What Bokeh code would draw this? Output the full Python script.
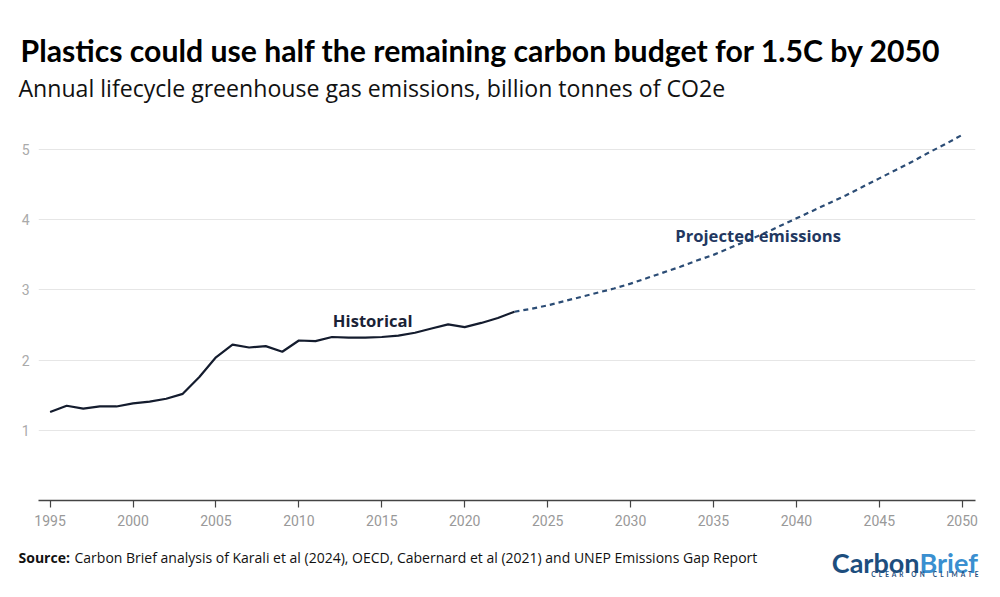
from bokeh.plotting import figure
from bokeh.models import FixedTicker, Range1d, Label, Plot
from bokeh.layouts import column
from bokeh.core.properties import value
from bokeh.embed import file_html
from bokeh.resources import INLINE

hist_years = list(range(1995, 2024))
hist_values = [1.26, 1.35, 1.31, 1.34, 1.34, 1.385, 1.41, 1.45, 1.52, 1.76,
               2.04, 2.22, 2.18, 2.20, 2.12, 2.28, 2.27, 2.33, 2.32, 2.32,
               2.33, 2.35, 2.39, 2.45, 2.51, 2.47, 2.53, 2.60, 2.69]
proj_years = list(range(2023, 2051))
proj_values = [2.69, 2.73, 2.78, 2.84, 2.90, 2.96, 3.02, 3.09, 3.17, 3.25,
               3.33, 3.42, 3.50, 3.60, 3.70, 3.80, 3.91, 4.02, 4.13, 4.24,
               4.35, 4.47, 4.59, 4.71, 4.83, 4.96, 5.08, 5.21]
x_ticks = [1995, 2000, 2005, 2010, 2015, 2020, 2025, 2030, 2035, 2040, 2045, 2050]
y_ticks = [1, 2, 3, 4, 5]

TITLE = "Plastics could use half the remaining carbon budget for 1.5C by 2050"
SUBTITLE = "Annual lifecycle greenhouse gas emissions, billion tonnes of CO2e"
SOURCE_B = "Source:"
SOURCE = "Carbon Brief analysis of Karali et al (2024), OECD, Cabernard et al (2021) and UNEP Emissions Gap Report"
NB = "\u00a0"
TAGLINE = (NB * 5).join((NB * 2).join(word) for word in ["CLEAR", "ON", "CLIMATE"])

W = 984
HEAD_H = 110
MAIN_H = 425
FOOT_H = 46
HAS_FA = "frame_align" in Plot.properties()


def blank(h):
    kw = dict(width=W, height=h, output_backend="svg", toolbar_location=None,
              x_range=Range1d(0, W), y_range=Range1d(h, 0),
              x_axis_type=None, y_axis_type=None, min_border=0,
              frame_width=W, frame_height=h)
    if HAS_FA:
        kw["frame_align"] = False
    f = figure(**kw)
    f.outline_line_color = None
    f.grid.visible = False
    return f


def put(f, X, Y, s, font, size, color, bold=False, align="left"):
    f.text(x=[X], y=[Y], text=[s], text_font=value(font), text_font_size=size,
           text_font_style="bold" if bold else "normal", text_color=color,
           text_baseline="alphabetic", text_align=align)


# header
head = blank(HEAD_H)
put(head, 20, 49, TITLE, "Lato", "30.2px", "#000000", bold=True)
put(head, 18, 87, SUBTITLE, "Open Sans", "23.1px", "#111111")

# main chart
kw = dict(width=W, height=MAIN_H, output_backend="svg", toolbar_location=None,
          x_range=Range1d(1994.3, 2050.8), y_range=Range1d(0, 5.5),
          min_border_left=38, min_border_right=9, min_border_top=4,
          min_border_bottom=35)
if HAS_FA:
    kw["frame_align"] = False
p = figure(**kw)
p.outline_line_color = None

p.xaxis.ticker = FixedTicker(ticks=x_ticks)
p.yaxis.ticker = FixedTicker(ticks=y_ticks)
p.xgrid.grid_line_color = None
p.ygrid.grid_line_color = "#e6e6e6"
p.ygrid.grid_line_width = 1

p.yaxis.axis_line_color = None
p.yaxis.major_tick_line_color = None
p.yaxis.minor_tick_line_color = None
p.yaxis.major_label_text_color = "#aaaaaa"
p.yaxis.major_label_text_font = "Roboto"
p.yaxis.major_label_text_font_size = "14px"
p.yaxis.major_label_standoff = 3

p.xaxis.axis_line_color = "#444444"
p.xaxis.axis_line_width = 1.5
p.xaxis.major_tick_line_color = "#444444"
p.xaxis.major_tick_line_width = 1.2
p.xaxis.major_tick_out = 7
p.xaxis.major_tick_in = 0
p.xaxis.minor_tick_line_color = None
p.xaxis.major_label_text_color = "#999999"
p.xaxis.major_label_text_font = "Roboto"
p.xaxis.major_label_text_font_size = "14px"
p.xaxis.major_label_standoff = 7

p.line(proj_years, proj_values, line_color="#2b4c75", line_width=2.2, line_dash="5 4")
p.line(hist_years, hist_values, line_color="#141c2e", line_width=2.2)

p.add_layout(Label(x=2012.05, y=2.56, text="Historical", text_font="Open Sans",
                   text_font_style="bold", text_font_size="16.6px", text_color="#1a2236",
                   text_baseline="middle"))
p.add_layout(Label(x=2032.7, y=3.77, text="Projected emissions", text_font="Open Sans",
                   text_font_style="bold", text_font_size="16.6px", text_color="#22375f",
                   text_baseline="middle"))

# footer
foot = blank(FOOT_H)
put(foot, 18, 22, SOURCE_B, "Open Sans", "14px", "#111111", bold=True)
put(foot, 74, 22, SOURCE, "Open Sans", "14px", "#111111")
put(foot, 919, 27, "Carbon", "Lato", "27px", "#1d4e7e", bold=True, align="right")
put(foot, 919, 27, "Brief", "Lato", "27px", "#3a8fd0", bold=True)
put(foot, 978, 39, TAGLINE, "Lato", "6.5px", "#1d4e7e", bold=True, align="right")

layout = column(head, p, foot, spacing=0)
open("out.html", "w").write(file_html(layout, INLINE))
